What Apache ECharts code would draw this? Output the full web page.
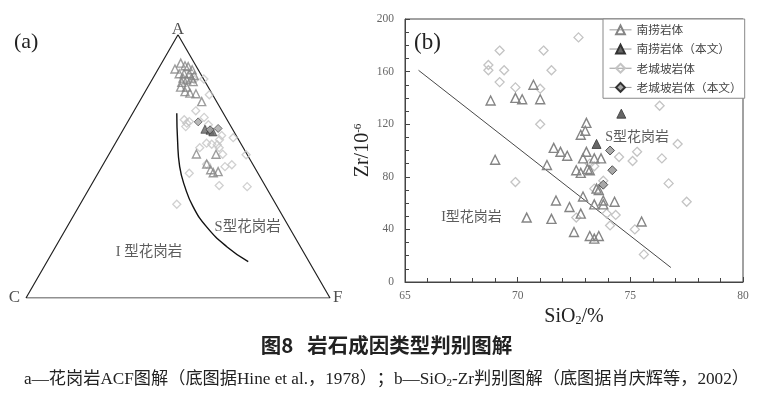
<!DOCTYPE html>
<html><head><meta charset="utf-8">
<script src="https://cdn.jsdelivr.net/npm/echarts@6/dist/echarts.min.js"></script>
<style>html,body{margin:0;padding:0;background:#fff}#c{width:773px;height:396px}</style>
</head><body><div id="c"></div>
<script>
// ---------- (a) ACF diagram data: [A %, F %]  (C = 100 - A - F) ----------
const acfNanlao = [[87.0,5.5],[89.2,6.3],[88.2,8.2],[87.9,9.4],[85.2,7.8],[85.2,9.4],[85.2,11.1],[83.5,9.9],[83.5,12.7],[81.9,10.3],[82.2,13.9],[80.1,10.8],[80.1,12.8],[78.4,13.1],[77.8,15.0],[77.6,17.1],[74.6,20.5],[86.7,11.3],[82.9,11.4],[84.5,13.1],[54.7,28.7],[54.6,35.2],[50.9,34.0],[48.7,36.4],[47.6,37.8],[48.0,39.2]];
const acfNanlaoThis = [[64.1,26.8],[63.7,28.7],[63.1,29.9]];
const acfLaocheng = [[82.9,13.9],[83.2,16.9],[77.2,21.7],[71.1,20.3],[68.6,24.3],[67.7,18.2],[66.4,19.7],[65.1,20.0],[67.0,20.2],[65.8,27.1],[61.7,33.5],[60.1,33.6],[58.2,33.8],[60.9,37.7],[57.1,28.6],[58.8,30.0],[58.4,31.9],[57.1,35.0],[54.6,37.4],[54.4,45.2],[50.8,34.0],[49.9,40.5],[50.6,42.4],[47.4,30.0],[42.7,42.2],[42.3,51.6],[35.6,31.8]];
const acfLaochengThis = [[66.9,23.2],[63.9,28.6],[64.4,31.0]];
const acfBoundary = [[70.2,14.5],[60.1,19.8],[49.9,25.6],[42.3,31.1],[34.7,37.6],[27.1,45.8],[19.5,56.3],[13.8,66.2]];
const acfVertices = [{name:'C', v:[0,0]},{name:'F', v:[0,100]},{name:'A', v:[100,0]}];

// ---------- (b) SiO2 - Zr data: [SiO2 %, Zr ppm] ----------
const nanlao = [[68.8,138],[69.0,93],[69.9,140],[70.2,139],[70.7,150],[71.0,139],[71.3,89],[71.6,102],[71.9,99],[72.2,96],[71.7,62],[70.4,49],[71.5,48],[72.3,57],[72.5,38],[72.8,52],[72.9,65],[73.05,121],[73.0,115],[72.8,112],[73.05,99],[72.9,94],[72.6,85],[72.8,83],[73.1,86],[73.2,85],[73.4,94],[73.7,94],[73.5,71],[73.6,70],[73.4,59],[73.8,62],[73.8,59],[74.3,61],[73.2,35],[73.4,33],[73.6,35],[75.5,46]];
const nanlaoThis = [[74.6,128],[73.5,105]];
const laocheng = [[72.7,186],[69.2,176],[71.15,176],[68.7,165],[68.7,161],[69.4,161],[71.5,161],[69.2,152],[69.9,148],[71.0,147],[71.0,120],[69.9,76],[76.3,134],[77.1,105],[74.5,95],[75.3,99],[75.1,92],[76.4,94],[76.7,75],[77.5,61],[75.2,40],[75.6,21],[74.1,43],[74.35,51],[73.95,52],[72.6,49],[73.2,90],[73.4,88],[73.4,71],[73.8,77]];
const laochengThis = [[74.1,100],[74.2,85],[73.8,74]];
const boundaryB = [[65.6,161],[76.8,11]];

const xTicks = [65,70,75,80];
const yTicks = [0,40,80,120,160,200];
const seriesNames = ['南捞岩体','南捞岩体（本文）','老城坡岩体','老城坡岩体（本文）'];

// ---------- helpers ----------
const S3 = Math.sqrt(3)/2;
function tern(p){ const a=p[0], f=p[1]; return [f + a/2, a*S3]; }
const SERIF = "'Liberation Serif','Times New Roman','Noto Sans CJK SC',serif";
const CJK = "'Noto Sans CJK SC','Liberation Serif',sans-serif";

const styles = [
  {symbol:'triangle', size:9, tsize:8, item:{color:'rgba(0,0,0,0)', borderColor:'#858585', borderWidth:1.4}},
  {symbol:'triangle', size:9, tsize:8, item:{color:'#666', borderColor:'#333', borderWidth:0.8}},
  {symbol:'diamond', size:9, tsize:8, item:{color:'rgba(0,0,0,0)', borderColor:'#c4c4c4', borderWidth:1.3}},
  {symbol:'diamond', size:9, tsize:8, item:{color:'#a8a8a8', borderColor:'#333', borderWidth:0.8}}
];
const dataB = [nanlao, nanlaoThis, laocheng, laochengThis];
const dataA = [acfNanlao, acfNanlaoThis, acfLaocheng, acfLaochengThis];
const drawOrder = [2,0,1,3];

const series = [];
drawOrder.forEach(i => {
  series.push({
    name: seriesNames[i], type:'line', xAxisIndex:1, yAxisIndex:1,
    data: dataB[i], symbol: styles[i].symbol, symbolSize: styles[i].size,
    itemStyle: styles[i].item, lineStyle:{opacity:0, width:0}, silent:true, z:3
  });
});
series.push({
  name:'boundaryB', type:'line', xAxisIndex:1, yAxisIndex:1, data: boundaryB,
  symbol:'none', lineStyle:{color:'#333', width:0.9}, silent:true, z:2
});
series.push({
  name:'labelsB', type:'scatter', xAxisIndex:1, yAxisIndex:1, symbolSize:0, silent:true,
  data:[{name:'S型花岗岩', value:[75.3,110]},{name:'I型花岗岩', value:[67.95,49.5]}],
  label:{show:true, position:'inside', formatter:'{b}', color:'#333', fontSize:14, fontFamily:SERIF}
});
series.push({
  name:'triangle', type:'line', xAxisIndex:0, yAxisIndex:0,
  data: [acfVertices[0], acfVertices[1], acfVertices[2], acfVertices[0]].map(d => tern(d.v)),
  symbol:'none', lineStyle:{color:'#222', width:1.2}, silent:true, z:2
});
series.push({
  name:'vertexLabels', type:'scatter', xAxisIndex:0, yAxisIndex:0, symbolSize:0, silent:true,
  data: acfVertices.map(d => ({name:d.name, value:tern(d.v),
    label:{position: d.name==='A'?'top':(d.name==='C'?'left':'right'), distance: d.name==='A'?-3:(d.name==='C'?6:3)}})),
  label:{show:true, formatter:'{b}', color:'#222', fontSize:17, fontFamily:SERIF}
});
series.push({
  name:'boundaryA', type:'line', xAxisIndex:0, yAxisIndex:0, smooth:true,
  data: acfBoundary.map(tern), symbol:'none', lineStyle:{color:'#111', width:1.4}, silent:true, z:2
});
series.push({
  name:'labelsA', type:'scatter', xAxisIndex:0, yAxisIndex:0, symbolSize:0, silent:true,
  data:[{name:'S型花岗岩', value:tern([27.0,59.4])},{name:'I 型花岗岩', value:tern([17.5,31.7])}],
  label:{show:true, position:'inside', formatter:'{b}', color:'#333', fontSize:14.5, fontFamily:SERIF}
});
drawOrder.forEach(i => {
  series.push({
    name: 'ACF-' + seriesNames[i], type:'scatter', xAxisIndex:0, yAxisIndex:0,
    data: dataA[i].map(tern), symbol: styles[i].symbol, symbolSize: styles[i].tsize,
    itemStyle: styles[i].item, silent:true, z:3
  });
});

const axisColor = '#444';
const option = {
  animation:false,
  textStyle:{fontFamily:SERIF},
  grid:[
    {left:26, top:298-304*S3, width:304, height:304*S3},
    {left:405, top:19, right:30, bottom:114, show:true, borderColor:axisColor, borderWidth:1}
  ],
  xAxis:[
    {gridIndex:0, type:'value', min:0, max:100, show:false},
    {gridIndex:1, type:'value', min:xTicks[0], max:xTicks[xTicks.length-1], interval:xTicks[1]-xTicks[0],
     axisLine:{lineStyle:{color:axisColor, width:1}},
     axisTick:{inside:true, length:5, lineStyle:{color:axisColor}},
     minorTick:{show:true, splitNumber:5, length:4, lineStyle:{color:axisColor}},
     splitLine:{show:false},
     axisLabel:{color:'#666', fontSize:11.5, fontFamily:SERIF, margin:8},
     name:'{a|SiO}{s|2}{a|/%}', nameLocation:'middle', nameGap:15,
     nameTextStyle:{color:'#222', rich:{a:{fontSize:20, fontFamily:SERIF, color:'#222'}, s:{fontSize:12, fontFamily:SERIF, color:'#222', verticalAlign:'bottom'}}}}
  ],
  yAxis:[
    {gridIndex:0, type:'value', min:0, max:100*S3, show:false},
    {gridIndex:1, type:'value', min:yTicks[0], max:yTicks[yTicks.length-1], interval:yTicks[1]-yTicks[0],
     axisLine:{show:true, lineStyle:{color:axisColor, width:1}},
     axisTick:{show:true, inside:true, length:5, lineStyle:{color:axisColor}},
     minorTick:{show:true, splitNumber:4, length:4, lineStyle:{color:axisColor}},
     splitLine:{show:false},
     axisLabel:{color:'#666', fontSize:11.5, fontFamily:SERIF, margin:11},
     name:'{a|Zr/10}{s|-6}', nameLocation:'middle', nameGap:32, nameRotate:90,
     nameTextStyle:{color:'#222', rich:{a:{fontSize:20, fontFamily:SERIF, color:'#222'}, s:{fontSize:11, fontFamily:SERIF, color:'#222', verticalAlign:'top'}}}}
  ],
  legend:{
    data: seriesNames, orient:'vertical', left:603, top:19,
    padding:[5,3,5,6], itemGap:7.5, itemWidth:22, itemHeight:11,
    borderColor:'#888', borderWidth:1, backgroundColor:'#fff', selectedMode:false,
    textStyle:{fontSize:11.7, color:'#444', fontFamily:CJK},
    lineStyle:{color:'#999', width:1, opacity:1}
  },
  title:[
    {text:'图8   岩石成因类型判别图解', left:'center', top:330,
     textStyle:{fontSize:20.5, fontWeight:'bold', color:'#222', fontFamily:CJK}},
    {text:'a—花岗岩ACF图解（底图据Hine et al.，1978）；b—SiO{s|2}-Zr判别图解（底图据肖庆辉等，2002）', left:'center', top:366,
     textStyle:{fontSize:17.2, fontWeight:'normal', color:'#222', fontFamily:SERIF,
       rich:{s:{fontSize:11, fontFamily:SERIF, fontWeight:'normal', color:'#222', verticalAlign:'bottom'}}}}
  ],
  graphic:[
    {type:'text', left:14, top:31, style:{text:'(a)', font:'22px "Liberation Serif"', fill:'#222'}},
    {type:'text', left:414, top:31, style:{text:'(b)', font:'23px "Liberation Serif"', fill:'#222'}}
  ],
  series: series
};
const chart = echarts.init(document.getElementById('c'), null, {renderer:'canvas'});
chart.setOption(option);
</script></body></html>
